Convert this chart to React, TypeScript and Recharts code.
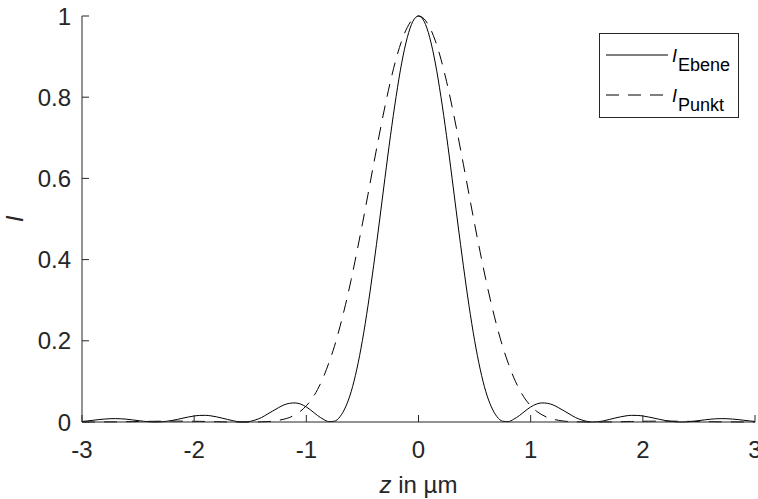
import React from "react";
import { LineChart, Line, XAxis, YAxis, Legend } from "recharts";

// z positions in µm, step 0.05
const zPositions = [
  -3, -2.95, -2.9, -2.85, -2.8, -2.75, -2.7, -2.65, -2.6, -2.55,
  -2.5, -2.45, -2.4, -2.35, -2.3, -2.25, -2.2, -2.15, -2.1, -2.05,
  -2, -1.95, -1.9, -1.85, -1.8, -1.75, -1.7, -1.65, -1.6, -1.55,
  -1.5, -1.45, -1.4, -1.35, -1.3, -1.25, -1.2, -1.15, -1.1, -1.05,
  -1, -0.95, -0.9, -0.85, -0.8, -0.75, -0.7, -0.65, -0.6, -0.55,
  -0.5, -0.45, -0.4, -0.35, -0.3, -0.25, -0.2, -0.15, -0.1, -0.05,
  0,
  0.05, 0.1, 0.15, 0.2, 0.25, 0.3, 0.35, 0.4, 0.45, 0.5,
  0.55, 0.6, 0.65, 0.7, 0.75, 0.8, 0.85, 0.9, 0.95, 1,
  1.05, 1.1, 1.15, 1.2, 1.25, 1.3, 1.35, 1.4, 1.45, 1.5,
  1.55, 1.6, 1.65, 1.7, 1.75, 1.8, 1.85, 1.9, 1.95, 2,
  2.05, 2.1, 2.15, 2.2, 2.25, 2.3, 2.35, 2.4, 2.45, 2.5,
  2.55, 2.6, 2.65, 2.7, 2.75, 2.8, 2.85, 2.9, 2.95, 3,
];

// solid curve (plane)
const intensityEbene = [
  0.0014, 0.0027, 0.0043, 0.0059, 0.0072, 0.0081, 0.0083, 0.0079, 0.0068, 0.0052,
  0.0035, 0.0018, 0.0006, 0, 0.0003, 0.0016, 0.0037, 0.0064, 0.0095, 0.0124,
  0.0148, 0.0162, 0.0164, 0.0151, 0.0127, 0.0095, 0.0061, 0.0029, 0.0006, 0,
  0.0016, 0.0055, 0.011, 0.019, 0.027, 0.035, 0.042, 0.046, 0.047, 0.044,
  0.037, 0.027, 0.016, 0.007, 0.001, 0.002, 0.013, 0.037, 0.075, 0.13,
  0.201, 0.287, 0.385, 0.49, 0.599, 0.705, 0.801, 0.884, 0.947, 0.987,
  1,
  0.987, 0.947, 0.884, 0.801, 0.705, 0.599, 0.49, 0.385, 0.287, 0.201,
  0.13, 0.075, 0.037, 0.013, 0.002, 0.001, 0.007, 0.016, 0.027, 0.037,
  0.044, 0.047, 0.046, 0.042, 0.035, 0.027, 0.019, 0.011, 0.0055, 0.0016,
  0, 0.0006, 0.0029, 0.0061, 0.0095, 0.0127, 0.0151, 0.0164, 0.0162, 0.0148,
  0.0124, 0.0095, 0.0064, 0.0037, 0.0016, 0.0003, 0, 0.0006, 0.0018, 0.0035,
  0.0052, 0.0068, 0.0079, 0.0083, 0.0081, 0.0072, 0.0059, 0.0043, 0.0027, 0.0014,
];

// dashed curve (point)
const intensityPunkt = [
  0, 0, 0.0001, 0.0001, 0.0002, 0.0003, 0.0004, 0.0006, 0.0008, 0.001,
  0.0012, 0.0014, 0.0016, 0.0018, 0.002, 0.0021, 0.0022, 0.0022, 0.0021, 0.002,
  0.0018, 0.0016, 0.0013, 0.001, 0.0007, 0.0004, 0.0002, 0.0001, 0, 0,
  0, 0.0002, 0.0005, 0.001, 0.002, 0.004, 0.007, 0.011, 0.018, 0.027,
  0.04, 0.057, 0.08, 0.109, 0.145, 0.186, 0.235, 0.29, 0.351, 0.418,
  0.488, 0.561, 0.635, 0.707, 0.776, 0.839, 0.894, 0.939, 0.972, 0.993,
  1,
  0.993, 0.972, 0.939, 0.894, 0.839, 0.776, 0.707, 0.635, 0.561, 0.488,
  0.418, 0.351, 0.29, 0.235, 0.186, 0.145, 0.109, 0.08, 0.057, 0.04,
  0.027, 0.018, 0.011, 0.007, 0.004, 0.002, 0.001, 0.0005, 0.0002, 0,
  0, 0, 0.0001, 0.0002, 0.0004, 0.0007, 0.001, 0.0013, 0.0016, 0.0018,
  0.002, 0.0021, 0.0022, 0.0022, 0.0021, 0.002, 0.0018, 0.0016, 0.0014, 0.0012,
  0.001, 0.0008, 0.0006, 0.0004, 0.0003, 0.0002, 0.0001, 0.0001, 0, 0,
];

const xTicks = [-3, -2, -1, 0, 1, 2, 3];
const yTicks = [0, 0.2, 0.4, 0.6, 0.8, 1];

const data = zPositions.map((z, i) => ({
  z,
  Ebene: intensityEbene[i],
  Punkt: intensityPunkt[i],
}));

const FONT = "'Liberation Sans', Arial, Helvetica, sans-serif";
const INK = "#262626";

const XTick = (props: any) => {
  const { x, y, payload } = props;
  return (
    <g>
      <line x1={x} x2={x} y1={y} y2={y - 7} stroke={INK} strokeWidth={1} />
      <text x={x} y={y + 36} textAnchor="middle" fontFamily={FONT} fontSize={24} fill={INK}>
        {payload.value}
      </text>
    </g>
  );
};

const YTick = (props: any) => {
  const { x, y, payload } = props;
  return (
    <g>
      <line x1={x} x2={x + 7} y1={y} y2={y} stroke={INK} strokeWidth={1} />
      <text x={x - 11} y={y + 8.5} textAnchor="end" fontFamily={FONT} fontSize={24} fill={INK}>
        {payload.value}
      </text>
    </g>
  );
};

const XLabel = (props: any) => {
  const vb = props.viewBox;
  return (
    <text x={vb.x + vb.width / 2} y={vb.y + 71} textAnchor="middle" fontFamily={FONT} fontSize={24} fill={INK}>
      <tspan fontStyle="italic">z</tspan> in µm
    </text>
  );
};

const YLabel = (props: any) => {
  const vb = props.viewBox;
  const cx = vb.x + 23;
  const cy = vb.y + vb.height / 2;
  return (
    <text x={cx} y={cy} textAnchor="middle" fontFamily={FONT} fontSize={24} fontStyle="italic" fill={INK} transform={`rotate(-90 ${cx} ${cy})`}>
      I
    </text>
  );
};

const LegendBox = (props: any) => {
  const items = props.payload || [];
  return (
    <svg width={140} height={86} style={{ display: "block" }}>
      <rect x={0.5} y={0.5} width={139} height={84} fill="#fff" stroke={INK} strokeWidth={1} />
      {items.map((entry: any, i: number) => {
        const rowY = 22 + i * 40;
        return (
          <g key={entry.value}>
            <line
              x1={7}
              x2={69}
              y1={rowY}
              y2={rowY}
              stroke="#000"
              strokeWidth={1}
              strokeDasharray={entry.payload?.strokeDasharray}
            />
            <text x={73} y={rowY + 7} fontFamily={FONT} fontSize={18} fill="#000">
              <tspan fontStyle="italic">I</tspan>
              <tspan dx={1} dy={9}>{entry.value}</tspan>
            </text>
          </g>
        );
      })}
    </svg>
  );
};

export default function App() {
  return (
    <div style={{ position: "absolute", left: 0, top: 0, background: "#fff" }}>
      <LineChart
        width={758}
        height={499}
        data={data}
        margin={{ top: 16, right: 3, bottom: 0, left: 0 }}
      >
        <XAxis
          dataKey="z"
          type="number"
          domain={[-3, 3]}
          ticks={xTicks}
          interval={0}
          height={77}
          stroke={INK}
          tickLine={false}
          tickSize={0}
          tickMargin={0}
          tick={XTick}
          label={{ content: XLabel }}
        />
        <YAxis
          type="number"
          domain={[0, 1]}
          ticks={yTicks}
          interval={0}
          width={82}
          stroke={INK}
          tickLine={false}
          tickSize={0}
          tickMargin={0}
          tick={YTick}
          label={{ content: YLabel }}
        />
        <Legend
          layout="vertical"
          align="center"
          verticalAlign="middle"
          content={LegendBox}
          wrapperStyle={{ left: 599, top: 33, width: 140, height: 86 }}
        />
        <Line
          dataKey="Ebene"
          name="Ebene"
          type="monotone"
          stroke="#000"
          strokeWidth={1}
          dot={false}
          activeDot={false}
          isAnimationActive={false}
        />
        <Line
          dataKey="Punkt"
          name="Punkt"
          type="monotone"
          stroke="#000"
          strokeWidth={1}
          strokeDasharray="13 9"
          dot={false}
          activeDot={false}
          isAnimationActive={false}
        />
      </LineChart>
    </div>
  );
}
